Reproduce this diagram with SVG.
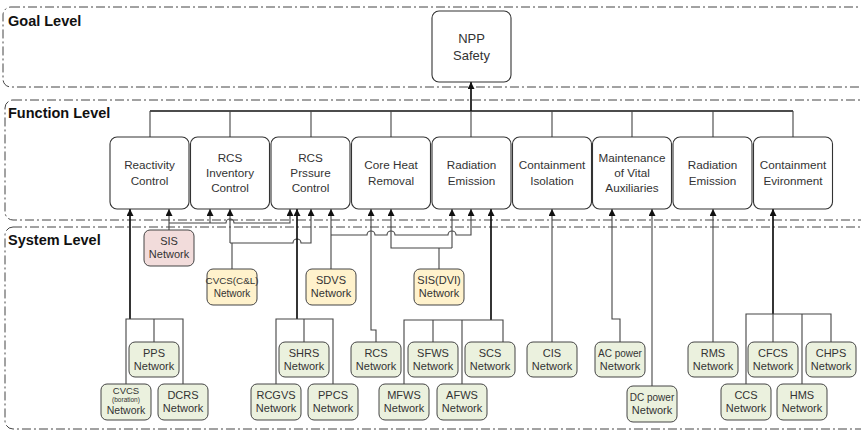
<svg xmlns="http://www.w3.org/2000/svg" width="861" height="431" viewBox="0 0 861 431">
<defs>
<marker id="arr" markerUnits="userSpaceOnUse" markerWidth="8" markerHeight="7" refX="7" refY="3.5" orient="auto">
<path d="M0,0 L7,3.5 L0,7 z" fill="#111"/>
</marker>
<style>
.panel{fill:none;stroke:#444;stroke-width:1;stroke-dasharray:9 3 2 3}
.lvl{font-family:"Liberation Sans",Arial,sans-serif;font-weight:bold;font-size:14.5px;fill:#111}
.fn rect{fill:#fff;stroke:#333;stroke-width:1.1}
.fn text,.nw text{font-family:"Liberation Sans",Arial,sans-serif;fill:#333;text-anchor:middle}
.fn text{font-size:11.7px}
.nw text{font-size:11px}
.nw rect{stroke:#444;stroke-width:1}
.g rect{fill:#ebf1de}
.y rect{fill:#fff2cc}
.p rect{fill:#f2dcdb}
.c{fill:none;stroke:#444;stroke-width:1.1}
.t{fill:none;stroke:#111;stroke-width:1.7}
.a{marker-end:url(#arr)}
</style>
</defs>

<!-- panels -->
<rect class="panel" x="3" y="7" width="880" height="80" rx="8"/>
<rect class="panel" x="5" y="100" width="880" height="120" rx="8"/>
<rect class="panel" x="5" y="227" width="880" height="202" rx="8"/>
<text class="lvl" x="8" y="26">Goal Level</text>
<text class="lvl" x="8" y="118">Function Level</text>
<text class="lvl" x="8" y="245">System Level</text>

<!-- connectors -->
<g id="connectors">
<path class="t a" d="M471,111 V82"/>
<path class="t" d="M150,111 H793"/>
<path class="c" d="M150,111 V137 M230,111 V137 M311,111 V137 M391,111 V137 M471,111 V137 M552,111 V137 M632,111 V137 M713,111 V137 M793,111 V137"/>
<!-- left group -->
<path class="t a" d="M130,319 V209"/>
<path class="c" d="M126,384 V319 H183 V384 M154,319 V342"/>
<!-- SIS -->
<path class="c a" d="M169,230 V209"/>
<path class="c a" d="M169,223 H226 A4,4 0 0 1 234,223 H290 V209"/>
<path class="c a" d="M210,223 V209"/>
<!-- CVCS(C&L) -->
<path class="c" d="M232,269 V243"/>
<path class="c a" d="M230,243 V209"/>
<path class="c a" d="M230,243 H293 A4,4 0 0 1 301,243 H311 V209"/>
<!-- SHRS group -->
<path class="t a" d="M297,319 V209"/>
<path class="c" d="M276,384 V319 H333 V384 M304,319 V342"/>
<!-- SDVS -->
<path class="c a" d="M331,269 V209"/>
<path class="c a" d="M331,235 H367 A4,4 0 0 1 375,235 H387 A4,4 0 0 1 395,235 H448 A4,4 0 0 1 456,235 H471 V209"/>
<!-- SIS(DVI) -->
<path class="c" d="M439,269 V248"/>
<path class="c a" d="M452,248 H391 V209"/>
<path class="c a" d="M452,248 V209"/>
<!-- RCS -->
<path class="c a" d="M376,342 V330 H371 V209"/>
<!-- FW group -->
<path class="t a" d="M491,320 V209"/>
<path class="c" d="M404,384 V320 H503 V342 M433,320 V342 M462,320 V384"/>
<!-- right side -->
<path class="c a" d="M552,342 V209"/>
<path class="c a" d="M620,342 V319 H612 V209"/>
<path class="c a" d="M652,386 V209"/>
<path class="c a" d="M713,342 V209"/>
<path class="t a" d="M773,314 V209"/>
<path class="c" d="M746,384 V314 H831 V342 M773,314 V342 M802,314 V384"/>
</g>

<!-- goal -->
<g id="npp" class="fn">
<rect x="432" y="11" width="79" height="71" rx="7"/>
<text x="471.5" y="43" style="font-size:13px">NPP</text>
<text x="471.5" y="60" style="font-size:13px">Safety</text>
</g>

<!-- functions -->
<g id="f-reactivity" class="fn"><rect x="110" y="137" width="79" height="72" rx="7"/>
<text x="149.5" y="169">Reactivity</text><text x="149.5" y="185">Control</text></g>
<g id="f-inventory" class="fn"><rect x="190.5" y="137" width="79" height="72" rx="7"/>
<text x="230" y="162">RCS</text><text x="230" y="177">Inventory</text><text x="230" y="192">Control</text></g>
<g id="f-pressure" class="fn"><rect x="271" y="137" width="79" height="72" rx="7"/>
<text x="310.5" y="162">RCS</text><text x="310.5" y="177">Prssure</text><text x="310.5" y="192">Control</text></g>
<g id="f-coreheat" class="fn"><rect x="351.5" y="137" width="79" height="72" rx="7"/>
<text x="391" y="169">Core Heat</text><text x="391" y="185">Removal</text></g>
<g id="f-radiation1" class="fn"><rect x="432" y="137" width="79" height="72" rx="7"/>
<text x="471.5" y="169">Radiation</text><text x="471.5" y="185">Emission</text></g>
<g id="f-isolation" class="fn"><rect x="512.5" y="137" width="79" height="72" rx="7"/>
<text x="552" y="169">Containment</text><text x="552" y="185">Isolation</text></g>
<g id="f-maintenance" class="fn"><rect x="592.5" y="137" width="79" height="72" rx="7"/>
<text x="632" y="162">Maintenance</text><text x="632" y="177">of Vital</text><text x="632" y="192">Auxiliaries</text></g>
<g id="f-radiation2" class="fn"><rect x="673" y="137" width="79" height="72" rx="7"/>
<text x="712.5" y="169">Radiation</text><text x="712.5" y="185">Emission</text></g>
<g id="f-environment" class="fn"><rect x="753.5" y="137" width="79" height="72" rx="7"/>
<text x="793" y="169">Containment</text><text x="793" y="185">Evironment</text></g>

<!-- networks -->
<g id="n-sis" class="nw p"><rect x="144" y="230" width="50" height="36" rx="6"/>
<text x="169" y="245">SIS</text><text x="169" y="258">Network</text></g>
<g id="n-cvcscl" class="nw y"><rect x="207" y="269" width="50" height="36" rx="6"/>
<text x="232" y="284" style="font-size:9.8px">CVCS(C&amp;L)</text><text x="232" y="297" style="font-size:10px">Network</text></g>
<g id="n-sdvs" class="nw y"><rect x="306" y="269" width="50" height="36" rx="6"/>
<text x="331" y="284">SDVS</text><text x="331" y="297">Network</text></g>
<g id="n-sisdvi" class="nw y"><rect x="414" y="269" width="50" height="36" rx="6"/>
<text x="439" y="284">SIS(DVI)</text><text x="439" y="297">Network</text></g>

<g id="n-pps" class="nw g"><rect x="129" y="342" width="50" height="35" rx="6"/>
<text x="154" y="357">PPS</text><text x="154" y="370">Network</text></g>
<g id="n-cvcsb" class="nw g"><rect x="101" y="384" width="50" height="36" rx="6"/>
<text x="126" y="394" style="font-size:9.5px">CVCS</text><text x="126" y="402" style="font-size:6.5px">(boration)</text><text x="126" y="414" style="font-size:10.5px">Network</text></g>
<g id="n-dcrs" class="nw g"><rect x="158" y="384" width="50" height="36" rx="6"/>
<text x="183" y="399">DCRS</text><text x="183" y="412">Network</text></g>

<g id="n-shrs" class="nw g"><rect x="279" y="342" width="50" height="35" rx="6"/>
<text x="304" y="357">SHRS</text><text x="304" y="370">Network</text></g>
<g id="n-rcgvs" class="nw g"><rect x="251" y="384" width="50" height="36" rx="6"/>
<text x="276" y="399">RCGVS</text><text x="276" y="412">Network</text></g>
<g id="n-ppcs" class="nw g"><rect x="308" y="384" width="50" height="36" rx="6"/>
<text x="333" y="399">PPCS</text><text x="333" y="412">Network</text></g>

<g id="n-rcs" class="nw g"><rect x="351" y="342" width="50" height="35" rx="6"/>
<text x="376" y="357">RCS</text><text x="376" y="370">Network</text></g>
<g id="n-sfws" class="nw g"><rect x="408" y="342" width="50" height="35" rx="6"/>
<text x="433" y="357">SFWS</text><text x="433" y="370">Network</text></g>
<g id="n-scs" class="nw g"><rect x="465" y="342" width="50" height="35" rx="6"/>
<text x="490" y="357">SCS</text><text x="490" y="370">Network</text></g>
<g id="n-mfws" class="nw g"><rect x="379" y="384" width="50" height="36" rx="6"/>
<text x="404" y="399">MFWS</text><text x="404" y="412">Network</text></g>
<g id="n-afws" class="nw g"><rect x="437" y="384" width="50" height="36" rx="6"/>
<text x="462" y="399">AFWS</text><text x="462" y="412">Network</text></g>

<g id="n-cis" class="nw g"><rect x="527" y="342" width="50" height="35" rx="6"/>
<text x="552" y="357">CIS</text><text x="552" y="370">Network</text></g>
<g id="n-ac" class="nw g"><rect x="595" y="342" width="50" height="35" rx="6"/>
<text x="620" y="357" style="font-size:10px">AC power</text><text x="620" y="370">Network</text></g>
<g id="n-dc" class="nw g"><rect x="627" y="386" width="50" height="36" rx="6"/>
<text x="652" y="401" style="font-size:10px">DC power</text><text x="652" y="414">Network</text></g>
<g id="n-rms" class="nw g"><rect x="688" y="342" width="50" height="35" rx="6"/>
<text x="713" y="357">RMS</text><text x="713" y="370">Network</text></g>
<g id="n-cfcs" class="nw g"><rect x="748" y="342" width="50" height="35" rx="6"/>
<text x="773" y="357">CFCS</text><text x="773" y="370">Network</text></g>
<g id="n-chps" class="nw g"><rect x="806" y="342" width="50" height="35" rx="6"/>
<text x="831" y="357">CHPS</text><text x="831" y="370">Network</text></g>
<g id="n-ccs" class="nw g"><rect x="721" y="384" width="50" height="36" rx="6"/>
<text x="746" y="399">CCS</text><text x="746" y="412">Network</text></g>
<g id="n-hms" class="nw g"><rect x="777" y="384" width="50" height="36" rx="6"/>
<text x="802" y="399">HMS</text><text x="802" y="412">Network</text></g>
</svg>
